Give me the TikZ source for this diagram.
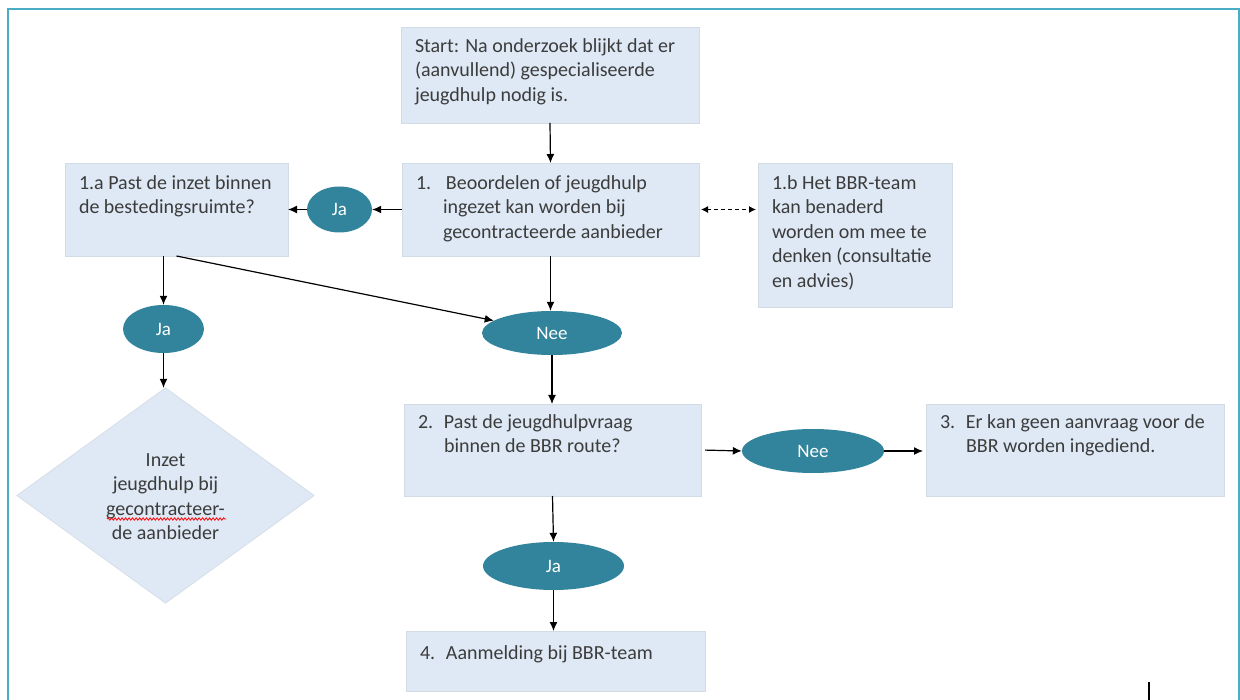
\documentclass[tikz,border=0pt]{standalone}
\usepackage{fontspec}
\setmainfont{Carlito}
\usetikzlibrary{shapes.geometric,arrows.meta,decorations.pathmorphing,calc}
\definecolor{boxfill}{HTML}{DEE9F5}
\definecolor{boxline}{HTML}{D3DBE4}
\definecolor{ovalfill}{HTML}{31849B}
\definecolor{frameline}{HTML}{4BACC6}
\definecolor{txt}{HTML}{3C3C3C}
\newcommand{\txtfont}{\fontsize{20}{24.5}\selectfont}
\begin{document}
\begin{tikzpicture}[x=1pt,y=-1pt,
  box/.style={draw=boxline,line width=0.6pt,fill=boxfill,inner sep=0pt,outer sep=0pt},
  oval/.style={ellipse,fill=ovalfill,draw=none,inner sep=0pt,text=white,font=\fontsize{19}{22}\selectfont},
  btext/.style={anchor=north west,inner sep=0pt,outer sep=0pt,text=txt,font=\txtfont},
  arr/.style={-{Latex[length=9pt,width=8pt]},line width=1.2pt,draw=black},
  darr/.style={{Latex[length=7pt,width=7pt]}-{Latex[length=7pt,width=7pt]},line width=1.2pt,dash pattern=on 4pt off 3pt,draw=black}
]
\useasboundingbox (0,0) rectangle (1240,700);
\fill[white] (0,0) rectangle (1240,700);
% frame
\draw[frameline,line width=2.2pt] (8,702) -- (8,9) -- (1239,9) -- (1239,702);

% boxes
\node[box,minimum width=298,minimum height=96] (start) at (550,75) {};
\node[box,minimum width=297,minimum height=93] (b1) at (550.5,209.5) {};
\node[box,minimum width=223,minimum height=93] (b1a) at (176.5,209.5) {};
\node[box,minimum width=194,minimum height=144] (b1b) at (855,235) {};
\node[box,minimum width=297,minimum height=92] (b2) at (552.5,450) {};
\node[box,minimum width=298,minimum height=92] (b3) at (1075,450) {};
\node[box,minimum width=299,minimum height=60] (b4) at (555.5,661) {};

% diamond
\node[draw=none,inner sep=0pt,minimum width=297,minimum height=215] (dia) at (165.5,495.5) {};
\fill[boxfill] (dia.north) -- (dia.east) -- (dia.south) -- (dia.west) -- cycle;
\draw[boxline,line width=0.6pt] (dia.north) -- (dia.east) -- (dia.south) -- (dia.west) -- cycle;

% ovals
\node[oval,minimum width=65,minimum height=46] (ja1) at (339.5,209.5) {Ja};
\node[oval,minimum width=140,minimum height=44] (nee1) at (552,333) {Nee};
\node[oval,minimum width=81,minimum height=48] (ja2) at (163.5,329) {Ja};
\node[oval,minimum width=142,minimum height=44] (nee2) at (813,451) {Nee};
\node[oval,minimum width=141,minimum height=48] (ja3) at (553.5,566) {Ja};

% texts
\renewcommand{\arraystretch}{1}
\node[btext] (tstart) at (415,35) {\begin{tabular}{@{}l@{}}Start: Na onderzoek blijkt dat er\\(aanvullend) gespecialiseerde\\jeugdhulp nodig is.\end{tabular}};
\node[btext] (t1) at (416,172) {\begin{tabular}{@{}p{27pt}@{}l@{}}1. & \hspace{3pt}Beoordelen of jeugdhulp\\ & ingezet kan worden bij\\ & gecontracteerde aanbieder\end{tabular}};
\node[btext] (t1a) at (79,172) {\begin{tabular}{@{}l@{}}1.a Past de inzet binnen\\de bestedingsruimte?\end{tabular}};
\node[btext] (t1b) at (772,172) {\begin{tabular}{@{}l@{}}1.b Het BBR-team\\kan benaderd\\worden om mee te\\denken (consultatie\\en advies)\end{tabular}};
\node[btext] (t2) at (418,411) {\begin{tabular}{@{}p{26pt}@{}l@{}}2. & Past de jeugdhulpvraag\\ & binnen de BBR route?\end{tabular}};
\node[btext] (t3) at (940,411) {\begin{tabular}{@{}p{26pt}@{}l@{}}3. & Er kan geen aanvraag voor de\\ & BBR worden ingediend.\end{tabular}};
\node[btext] (t4) at (420,642) {\begin{tabular}{@{}p{26pt}@{}l@{}}4. & Aanmelding bij BBR-team\end{tabular}};
\node[btext,anchor=north] (tdia) at (165.5,449) {\begin{tabular}{@{}c@{}}Inzet\\jeugdhulp bij\\gecontracteer-\\de aanbieder\end{tabular}};

% spell-check underline
\coordinate (wavyA) at (107,519);
\coordinate (wavyB) at (226,519);
\draw[red,line width=0.8pt,decorate,decoration={snake,amplitude=1.2pt,segment length=3.5pt}] (wavyA) -- (wavyB);

% connectors
\draw[arr] (start.south) -- (b1.north);
\draw[arr] (b1.west) -- (ja1.east);
\draw[arr] (ja1.west) -- (b1a.east);
\draw[darr,shorten <=2pt,shorten >=2pt] (b1.east) -- (b1b.west |- b1.east);
\draw[arr] (b1.south) -- (b1.south |- nee1.north);
\draw[arr] (ja2.north |- b1a.south) -- (ja2.north);
\draw[arr] (b1a.south) -- (nee1.168);
\draw[arr] (ja2.south) -- (ja2.south |- dia.north);
\draw[arr] (nee1.south) -- (nee1.south |- b2.north);
\draw[arr,shorten <=4pt] (b2.east) -- (nee2.west);
\draw[arr,shorten >=3pt] (nee2.east) -- (b3.west |- nee2.east);
\draw[arr] (b2.south) -- (ja3.north);
\draw[arr] (ja3.south) -- (ja3.south |- b4.north);

% stray line at bottom right
\coordinate (stubA) at (1149,682);
\coordinate (stubB) at (1149,700);
\draw[black,line width=1.2pt] (stubA) -- (stubB);
\end{tikzpicture}
\end{document}
